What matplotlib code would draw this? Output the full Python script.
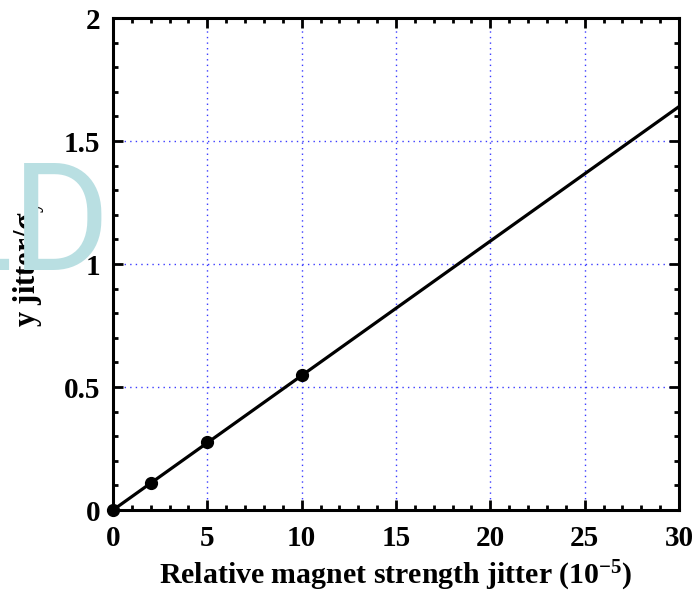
import matplotlib
matplotlib.use("Agg")
import matplotlib.pyplot as plt
from matplotlib.ticker import MultipleLocator

# data
jitter_pts = [0, 2, 5, 10]
sigma_pts = [0.0, 0.11, 0.275, 0.55]
fit_x = [0, 30]
fit_y = [0.0, 1.64]

plt.rcParams["font.family"] = "Liberation Serif"
plt.rcParams["font.weight"] = "bold"
plt.rcParams["mathtext.fontset"] = "custom"
plt.rcParams["mathtext.rm"] = "Liberation Serif:bold"
plt.rcParams["mathtext.it"] = "Liberation Serif:bold"
plt.rcParams["mathtext.bf"] = "Liberation Serif:bold"

fig = plt.figure(figsize=(6.95, 5.97), dpi=100)
ax = fig.add_axes([0.1626, 0.1457, 0.8144, 0.8241])

ax.plot(fit_x, fit_y, color="black", lw=2.3, zorder=3)
ax.plot(jitter_pts, sigma_pts, "o", color="black", ms=8.5, zorder=4, clip_on=False)

ax.set_xlim(0, 30)
ax.set_ylim(0, 2)
ax.xaxis.set_major_locator(MultipleLocator(5))
ax.xaxis.set_minor_locator(MultipleLocator(1))
ax.yaxis.set_minor_locator(MultipleLocator(0.1))
ax.set_yticks([0, 0.5, 1, 1.5, 2])
ax.set_yticklabels(["0", "0.5", "1", "1.5", "2"])

ax.grid(True, which="major", color="#3a3aff", linestyle=(0, (1, 3)), lw=1.0)
ax.tick_params(which="both", direction="in", top=True, right=True, width=2, labelsize=21)
ax.tick_params(which="major", length=7)
ax.tick_params(which="minor", length=3.5)
ax.tick_params(axis="x", pad=11)
ax.tick_params(axis="y", pad=9)
for s in ax.spines.values():
    s.set_linewidth(2.2)

ax.set_xlabel(r"Relative magnet strength jitter (10$^{-5}$)", fontsize=21.5, fontweight="bold", labelpad=5)
ax.set_ylabel(r"y jitter/σ$_{\rm y}$", fontsize=22, fontweight="bold", labelpad=12)

# faint watermark letters over the y label
fig.text(0.159, 0.548, "LD", color="#b9dfe2", fontsize=108, family="Roboto",
         fontweight="normal", ha="right", va="baseline", zorder=10)

fig.savefig("out.png", dpi=100)
